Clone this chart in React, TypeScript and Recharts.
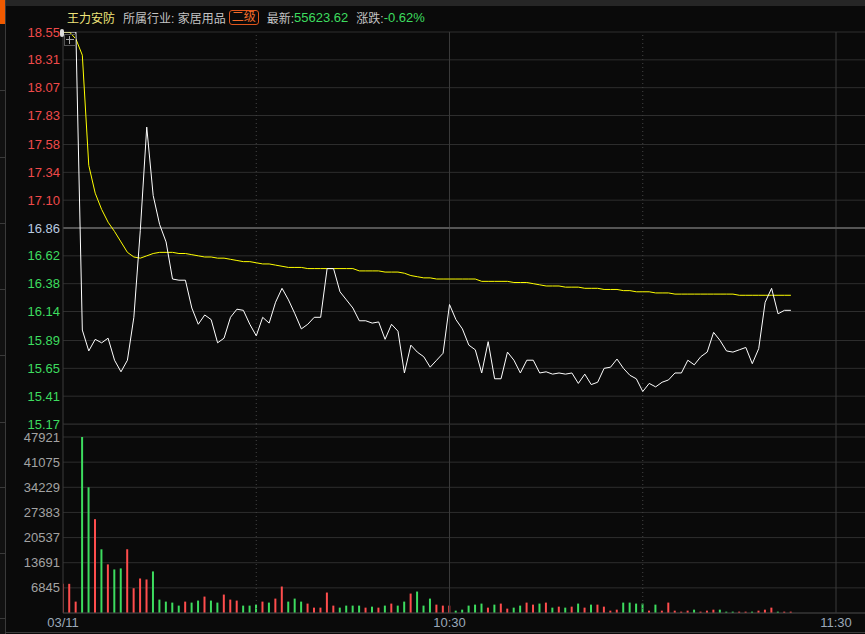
import React from "react";
import {
  ComposedChart, Line, Bar, Cell, XAxis, YAxis, CartesianGrid, ReferenceLine
} from "recharts";

const prevClose = 16.86;
const priceTicks = [15.17, 15.41, 15.65, 15.89, 16.14, 16.38, 16.62, 16.86, 17.10, 17.34, 17.58, 17.83, 18.07, 18.31, 18.55];
const volumeTicks = [0, 6845, 13691, 20537, 27383, 34229, 41075, 47921];
const timeTicks = [0, 60, 120];
const timeLabels = ["03/11", "10:30", "11:30"];

// one value per minute from 09:30
const price = [
  18.55, 18.55, 18.55, 15.98, 15.80, 15.90, 15.87, 15.91, 15.72, 15.62,
  15.72, 16.09, 16.84, 17.73, 17.14, 16.89, 16.74, 16.42, 16.41, 16.41,
  16.17, 16.03, 16.11, 16.07, 15.87, 15.91, 16.09, 16.16, 16.15, 16.03,
  15.93, 16.09, 16.04, 16.22, 16.34, 16.24, 16.12, 15.99, 16.03, 16.09,
  16.09, 16.51, 16.51, 16.31, 16.24, 16.17, 16.06, 16.06, 16.04, 16.05,
  15.90, 16.03, 15.97, 15.61, 15.85, 15.79, 15.75, 15.66, 15.72, 15.78,
  16.20, 16.07, 15.99, 15.85, 15.81, 15.61, 15.88, 15.56, 15.56, 15.79,
  15.72, 15.61, 15.72, 15.72, 15.61, 15.62, 15.60, 15.61, 15.60, 15.61,
  15.52, 15.60, 15.51, 15.53, 15.65, 15.66, 15.73, 15.65, 15.59, 15.56,
  15.45, 15.52, 15.49, 15.53, 15.55, 15.61, 15.61, 15.72, 15.68, 15.75,
  15.79, 15.96, 15.89, 15.80, 15.79, 15.81, 15.83, 15.69, 15.82, 16.22,
  16.34, 16.12, 16.15, 16.15,
];

const avgPrice = [
  18.55, 18.55, 18.49, 18.35, 17.40, 17.16, 17.02, 16.91, 16.83, 16.74,
  16.65, 16.61, 16.60, 16.62, 16.64, 16.65, 16.65, 16.65, 16.64, 16.64,
  16.63, 16.62, 16.61, 16.61, 16.60, 16.60, 16.59, 16.58, 16.57, 16.57,
  16.56, 16.55, 16.55, 16.54, 16.53, 16.52, 16.52, 16.52, 16.51, 16.51,
  16.51, 16.51, 16.51, 16.51, 16.51, 16.51, 16.49, 16.49, 16.49, 16.49,
  16.48, 16.48, 16.48, 16.47, 16.45, 16.44, 16.43, 16.43, 16.42, 16.42,
  16.42, 16.42, 16.42, 16.42, 16.42, 16.40, 16.40, 16.40, 16.40, 16.40,
  16.39, 16.39, 16.39, 16.38, 16.37, 16.36, 16.36, 16.36, 16.35, 16.35,
  16.35, 16.34, 16.34, 16.34, 16.33, 16.33, 16.33, 16.32, 16.32, 16.31,
  16.31, 16.31, 16.30, 16.30, 16.30, 16.29, 16.29, 16.29, 16.29, 16.29,
  16.29, 16.29, 16.29, 16.29, 16.29, 16.28, 16.28, 16.28, 16.28, 16.28,
  16.28, 16.28, 16.28, 16.28,
];

const volume = [
  7940, 7940, 3100, 47921, 34229, 25550, 17340, 13230, 11860, 12140,
  17340, 6750, 9400, 9130, 11320, 3650, 3100, 2830, 2010, 3100,
  2830, 3380, 4470, 3380, 2830, 5020, 3650, 3380, 2010, 2010,
  2280, 3100, 2830, 3920, 7210, 3100, 3920, 3100, 2560, 1460,
  1460, 5570, 2010, 1460, 2010, 2010, 2010, 1460, 1730, 1460,
  2010, 2560, 2010, 3100, 5290, 5840, 2010, 3920, 2280, 2010,
  2010, 640, 910, 2010, 2280, 2560, 1460, 2280, 2560, 1190,
  1460, 2010, 2830, 2280, 2560, 2830, 1460, 1730, 1460, 1730,
  2560, 1460, 2280, 2280, 1730, 640, 910, 2830, 2830, 2560,
  2560, 640, 2280, 640, 2830, 640, 370, 640, 910, 370,
  640, 910, 910, 370, 370, 370, 370, 370, 640, 910,
  1460, 370, 370, 370,
];

const rows = price.map((p, i) => ({
  t: i,
  price: p,
  avg: avgPrice[i],
  vol: volume[i],
  up: p >= (i === 0 ? prevClose : price[i - 1]),
}));

const BG = "#0a0a0a";
const GRID = "#2e2e2e";
const RED = "#ff4d4d";
const GREEN = "#3ddc5f";
const FONT = '"Liberation Sans", Arial, "Noto Sans CJK SC", sans-serif';
const X_MAX = 124.5; // plot runs on past 11:30 to the right edge
// volume plot starts at the bottom of the price panel; top grid line sits 13px lower
const VOL_MAX = 47921 * 189 / 176;

function PriceTick({ x, y, payload }: any) {
  const v = payload.value;
  const fill = Math.abs(v - prevClose) < 0.001 ? "#b9cbe0" : v > prevClose ? "#f04a4a" : "#3ddc5f";
  return (
    <text x={x} y={y} dy={4.5} textAnchor="end" fill={fill} fontSize={13} fontFamily={FONT}>
      {v.toFixed(2)}
    </text>
  );
}

function VolTick({ x, y, payload }: any) {
  if (payload.value === 0) return <g />;
  return (
    <text x={x} y={y} dy={4.5} textAnchor="end" fill="#a3a3a3" fontSize={13} fontFamily={FONT}>
      {payload.value}
    </text>
  );
}

function TimeTick({ x, y, payload }: any) {
  const idx = timeTicks.indexOf(payload.value);
  return (
    <text x={x} y={y} dy={10} textAnchor="middle" fill="#9ba8b8" fontSize={13} fontFamily={FONT}>
      {timeLabels[idx]}
    </text>
  );
}

export default function App() {
  const vlines = [
    <ReferenceLine key="v30" x={30} stroke="#444" strokeDasharray="1 3" />,
    <ReferenceLine key="v60" x={60} stroke="#3a3a3a" />,
    <ReferenceLine key="v90" x={90} stroke="#444" strokeDasharray="1 3" />,
    <ReferenceLine key="v120" x={120} stroke="#3a3a3a" />,
  ];

  return (
    <div style={{ position: "fixed", left: 0, top: 0, width: 865, height: 634, background: BG, overflow: "hidden", fontFamily: FONT }}>
      {/* top strip + left edge of the neighbouring panel */}
      <div style={{ position: "absolute", left: 0, top: 0, width: 865, height: 6, background: "#262626" }} />
      <div style={{ position: "absolute", left: 0, top: 0, width: 5, height: 634, background: "#111", borderRight: "1px solid #3a3a3a" }} />
      <div style={{ position: "absolute", left: 0, top: 0, width: 5, height: 24, background: "#f05a00" }} />
      {[90, 157, 223, 289, 355, 422, 487, 553, 618].map((y) => (
        <div key={y} style={{ position: "absolute", left: 0, top: y, width: 5, height: 1, background: "#3a3a3a" }} />
      ))}
      <div style={{ position: "absolute", left: 5, top: 632, width: 860, height: 1, background: "#3a3a3a" }} />

      {/* header */}
      <div style={{ position: "absolute", left: 67, top: 9, height: 16, display: "flex", alignItems: "center", fontSize: 12, whiteSpace: "nowrap" }}>
        <span style={{ color: "#efe57a" }}>王力安防</span>
        <span style={{ color: "#c4c4c4", marginLeft: 8 }}>所属行业: 家居用品</span>
        <span style={{ color: "#f06a2a", marginLeft: 3, border: "1px solid #e0561c", borderRadius: 3, padding: "0 2px", lineHeight: "13px" }}>二级</span>
        <span style={{ color: "#c4c4c4", marginLeft: 8 }}>最新:</span>
        <span style={{ color: GREEN, fontSize: 13 }}>55623.62</span>
        <span style={{ color: "#c4c4c4", marginLeft: 8 }}>涨跌:</span>
        <span style={{ color: GREEN, fontSize: 13 }}>-0.62%</span>
      </div>

      {/* volume panel (drawn first so the price labels sit on top) */}
      <div style={{ position: "absolute", left: 0, top: 424 }}>
        <ComposedChart width={865} height={210} data={rows} margin={{ top: 0, right: 0, bottom: 0, left: 0 }}>
          <CartesianGrid vertical={false} stroke={GRID} />
          <XAxis
            type="number"
            dataKey="t"
            domain={[0, X_MAX]}
            ticks={timeTicks}
            interval={0}
            height={21}
            tickSize={0}
            tickMargin={4}
            tickLine={false}
            axisLine={{ stroke: "#3a3a3a" }}
            tick={<TimeTick />}
            allowDataOverflow
          />
          <YAxis
            type="number"
            domain={[0, VOL_MAX]}
            ticks={volumeTicks}
            interval={0}
            width={63}
            tickSize={0}
            tickMargin={3}
            tickLine={false}
            axisLine={{ stroke: "#3a3a3a" }}
            tick={<VolTick />}
            allowDataOverflow
          />
          {vlines}
          <Bar dataKey="vol" barSize={2} isAnimationActive={false}>
            {rows.map((r) => (
              <Cell key={r.t} fill={r.up ? RED : GREEN} />
            ))}
          </Bar>
        </ComposedChart>
      </div>

      {/* price panel */}
      <div style={{ position: "absolute", left: 0, top: 0 }}>
        <ComposedChart width={865} height={432} data={rows} margin={{ top: 32, right: 0, bottom: 8, left: 0 }}>
          <CartesianGrid vertical={false} stroke={GRID} />
          <XAxis type="number" dataKey="t" domain={[0, X_MAX]} hide allowDataOverflow />
          <YAxis
            type="number"
            domain={[15.17, 18.55]}
            ticks={priceTicks}
            interval={0}
            width={63}
            tickSize={0}
            tickMargin={3}
            tickLine={false}
            axisLine={{ stroke: "#3a3a3a" }}
            tick={<PriceTick />}
            allowDataOverflow
          />
          {vlines}
          <ReferenceLine y={prevClose} stroke="#555" strokeWidth={2} />
          <Line type="linear" dataKey="avg" stroke="#ffff00" strokeWidth={1} dot={false} isAnimationActive={false} />
          <Line type="linear" dataKey="price" stroke="#ffffff" strokeWidth={1} dot={false} isAnimationActive={false} />
        </ComposedChart>
      </div>

      {/* start marker */}
      <div style={{ position: "absolute", left: 60, top: 29, width: 4, height: 8, background: "#ddd", borderRadius: 2 }} />
      <div style={{ position: "absolute", left: 64, top: 34, width: 10, height: 10, border: "1px solid #555" }}>
        <div style={{ position: "absolute", left: 4, top: 1, width: 1, height: 8, background: "#aaa" }} />
        <div style={{ position: "absolute", left: 1, top: 4, width: 8, height: 1, background: "#aaa" }} />
      </div>
    </div>
  );
}
